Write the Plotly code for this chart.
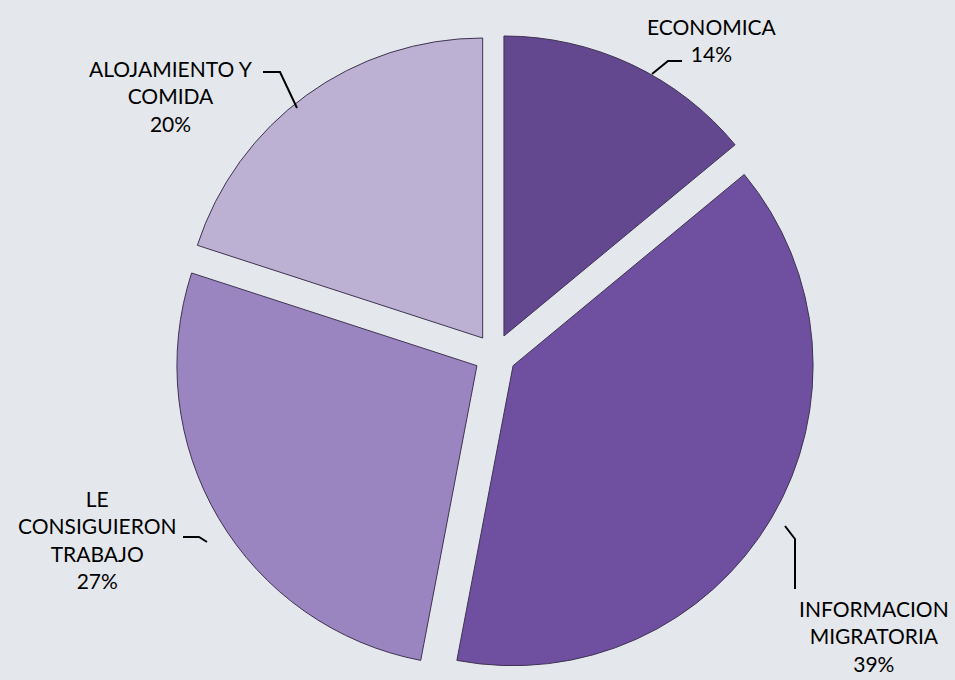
import plotly.graph_objects as go

labels = ["ECONOMICA", "INFORMACION<br>MIGRATORIA", "LE<br>CONSIGUIERON<br>TRABAJO", "ALOJAMIENTO Y<br>COMIDA"]
values = [14, 39, 27, 20]
colors = ["#634890", "#6f50a0", "#9b85c1", "#bcb1d2"]

# label block placement (paper px) and elbow leader lines
label_pos = [(712, 12), (874, 594), (97, 484), (171, 54)]
leaders = [
    [(652, 74), (668, 61), (682, 61)],
    [(785, 526), (795, 539), (795, 589)],
    [(207, 542), (199, 537), (183, 537)],
    [(297, 108), (280, 72), (263, 72)],
]

W, H = 955, 680
total = sum(values)

fig = go.Figure(go.Pie(
    labels=labels,
    values=values,
    sort=False,
    direction="clockwise",
    rotation=0,
    pull=[0.07, 0.07, 0.07, 0.07],
    marker=dict(colors=colors, line=dict(color="#3f3352", width=1)),
    textinfo="none",
    hoverinfo="label+percent",
    showlegend=False,
    domain=dict(x=[174 / W, 816 / W], y=[1 - 676 / H, 1 - 34 / H]),
))

for lab, v, (px, py) in zip(labels, values, label_pos):
    fig.add_annotation(
        x=px / W, y=1 - py / H, xref="paper", yref="paper",
        xanchor="center", yanchor="top",
        text=f"{lab}<br>{round(100 * v / total)}%",
        showarrow=False, align="center",
        font=dict(family="Lato", size=21, color="#000000"),
    )

for pts in leaders:
    path = "M " + " L ".join(f"{x / W},{1 - y / H}" for x, y in pts)
    fig.add_shape(type="path", path=path, xref="paper", yref="paper",
                  line=dict(color="#000000", width=2))

fig.update_layout(
    width=W, height=H,
    margin=dict(l=0, r=0, t=0, b=0),
    paper_bgcolor="#e4e7eb",
    plot_bgcolor="#e4e7eb",
)
fig.write_html("out.html", config={"displayModeBar": False},
               post_script="document.body.style.margin='0';")
